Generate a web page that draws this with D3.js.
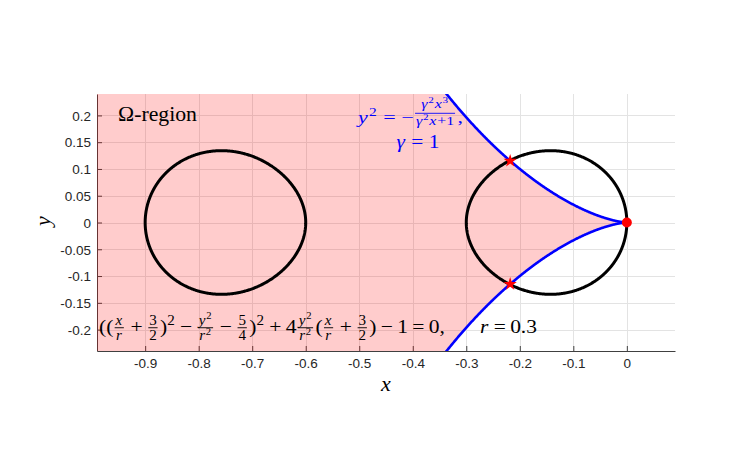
<!DOCTYPE html>
<html><head><meta charset="utf-8">
<script src="https://cdn.jsdelivr.net/npm/d3@7"></script>
<style>body{margin:0;background:#fff}text{white-space:pre}</style>
</head><body>
<svg id="c" width="746" height="469"></svg>
<script>
// ---- data ----
const xDomain = [-0.99, 0.09];
const yDomain = [-0.24, 0.24];
const xTicks = [-0.9, -0.8, -0.7, -0.6, -0.5, -0.4, -0.3, -0.2, -0.1, 0];
const yTicks = [-0.2, -0.15, -0.1, -0.05, 0, 0.05, 0.1, 0.15, 0.2];
const rParam = [0.3];        // r in the Cassini-oval equation
const gammaParam = [1];      // gamma in the cusp curve
const starPts = [[-0.218, 0.115], [-0.218, -0.115]];
const dotPts = [[0, 0]];

// ---- layout ----
const L = 97, T = 94, W = 578, H = 257;
const svg = d3.select('#c');
const x = d3.scaleLinear().domain(xDomain).range([L, L + W]);
const y = d3.scaleLinear().domain(yDomain).range([T + H, T]);
const SERIF = "'Liberation Serif','DejaVu Serif',serif";
const SANS = "'Liberation Sans',Arial,Helvetica,sans-serif";

svg.append('defs').append('clipPath').attr('id', 'clip')
  .append('rect').attr('x', L).attr('y', T).attr('width', W).attr('height', H);

// grid
const grid = svg.append('g');
grid.selectAll('.gx').data(xTicks).join('line')
  .attr('x1', d => Math.round(x(d)) + 0.5).attr('x2', d => Math.round(x(d)) + 0.5)
  .attr('y1', T).attr('y2', T + H).attr('stroke', '#e3e3e3').attr('stroke-width', 1);
grid.selectAll('.gy').data(yTicks).join('line')
  .attr('y1', d => Math.round(y(d)) + 0.5).attr('y2', d => Math.round(y(d)) + 0.5)
  .attr('x1', L).attr('x2', L + W).attr('stroke', '#e3e3e3').attr('stroke-width', 1);

// axes
const xAxis = d3.axisBottom(x).tickValues(xTicks).tickSizeInner(-5).tickSizeOuter(0)
  .tickFormat(d => String(+d.toFixed(2)));
const yAxis = d3.axisLeft(y).tickValues(yTicks).tickSizeInner(-5).tickSizeOuter(0)
  .tickFormat(d => String(+d.toFixed(2)));
const gx = svg.append('g').attr('transform', `translate(0,${T + H})`).call(xAxis);
const gy = svg.append('g').attr('transform', `translate(${L},0)`).call(yAxis);
[gx, gy].forEach(g => {
  g.select('.domain').attr('stroke', '#404040').attr('stroke-width', 1);
  g.selectAll('.tick line').attr('stroke', '#404040');
  g.selectAll('.tick text').attr('fill', '#262626').attr('font-size', 13.5).attr('font-family', SANS);
});
gx.selectAll('.tick text').attr('dy', null).attr('y', 17);
gy.selectAll('.tick text').attr('x', -6).attr('dy', '0.35em');

// ---- curves from the equations shown in the chart ----
const r = rParam[0], g2 = gammaParam[0] * gammaParam[0];
const cusp = xv => Math.sqrt(Math.max(0, -g2 * xv * xv * xv / (g2 * xv + 1)));
const xs = d3.range(0, 1201).map(i => xDomain[0] + (0 - xDomain[0]) * i / 1200);

// pink Omega region
const plot = svg.append('g').attr('clip-path', 'url(#clip)');
plot.append('path')
  .datum(xs)
  .attr('d', d3.area().x(d => x(d)).y0(d => y(-Math.min(cusp(d), 0.3))).y1(d => y(Math.min(cusp(d), 0.3))))
  .attr('fill', 'rgb(255,0,0)').attr('fill-opacity', 0.2);

// Cassini ovals: |w^2 - 5/4| = 1, w = x/r + 3/2 + i y/r
const th = d3.range(0, 721).map(i => 2 * Math.PI * i / 720);
function oval(sign) {
  return th.map(t => {
    const re = 1.25 + Math.cos(t), im = Math.sin(t);
    const m = Math.hypot(re, im);
    const a = Math.sqrt((m + re) / 2), b = Math.sign(im) * Math.sqrt((m - re) / 2);
    return [r * (sign * a - 1.5), r * sign * b];
  });
}
const line = d3.line().x(d => x(d[0])).y(d => y(d[1]));
[1, -1].forEach(s => plot.append('path').attr('d', line(oval(s)))
  .attr('fill', 'none').attr('stroke', '#000').attr('stroke-width', 3));

// cusp curve y^2 = -g^2 x^3/(g^2 x + 1)
const xb = xs.filter(d => cusp(d) < 0.3);
[1, -1].forEach(s => plot.append('path')
  .attr('d', line(xb.map(d => [d, s * cusp(d)])))
  .attr('fill', 'none').attr('stroke', '#0000ff').attr('stroke-width', 2.6));

// markers
svg.selectAll('.st').data(starPts).join('path')
  .attr('transform', d => `translate(${x(d[0])},${y(d[1])})`)
  .attr('d', d3.symbol().type(d3.symbolStar).size(55)).attr('fill', '#ff0000');
svg.selectAll('.dt').data(dotPts).join('circle')
  .attr('cx', d => x(d[0])).attr('cy', d => y(d[1])).attr('r', 5).attr('fill', '#ff0000');

// ---- math text renderer ----
function renderMath(g, items, x0, y0, size, color, supRaise) {
  let cx = x0;
  const sr = supRaise || 0.42;
  for (const it0 of items) {
    const it = typeof it0 === 'string' ? { t: it0 } : it0;
    if (it.t !== undefined) {
      const t = g.append('text').attr('x', cx).attr('y', y0).attr('font-size', size)
        .attr('font-family', SERIF).attr('fill', color)
        .attr('font-style', it.i ? 'italic' : 'normal').text(it.t);
      cx += t.node().getComputedTextLength() + (it.i ? 0.05 * size : 0);
    } else if (it.sup !== undefined) {
      const t = g.append('text').attr('x', cx).attr('y', y0 - sr * size).attr('font-size', size * 0.7)
        .attr('font-family', SERIF).attr('fill', color).text(it.sup);
      cx += t.node().getComputedTextLength() + 0.05 * size;
    } else if (it.f) {
      const fs = size * (it.fs || 0.7);
      const gn = g.append('g'), gd = g.append('g');
      const wn = renderMath(gn, it.f[0], 0, 0, fs, color);
      const wd = renderMath(gd, it.f[1], 0, 0, fs, color, 0.34);
      const w = Math.max(wn, wd) + 0.2 * size;
      const ax = y0 - 0.27 * size - (it.raise || 0) * size;
      gn.attr('transform', `translate(${cx + (w - wn) / 2},${ax - (it.ng || 0.15) * size})`);
      gd.attr('transform', `translate(${cx + (w - wd) / 2},${ax + (it.dg || 0.14) * size + fs * 0.68})`);
      g.append('line').attr('x1', cx + 0.06 * size).attr('x2', cx + w - 0.06 * size)
        .attr('y1', ax).attr('y2', ax).attr('stroke', color).attr('stroke-width', Math.max(0.7, size * 0.045));
      cx += w + 0.05 * size;
    } else if (it.sp !== undefined) {
      cx += it.sp * size;
    }
  }
  return cx - x0;
}
// horizontal fit only: keeps glyph height, stretches width to the reference span
function placeMath(items, left, baseline, size, color, targetW, anchor) {
  const g = svg.append('g');
  const inner = g.append('g');
  const w = renderMath(inner, items, 0, 0, size, color);
  const sx = targetW ? targetW / w : 1;
  const lx = anchor === 'middle' ? left - w * sx / 2 : left;
  g.attr('transform', `translate(${lx},${baseline}) scale(${sx},1)`);
  return g;
}
const I = t => ({ t, i: true });
const frac = (a, b, o) => Object.assign({ f: [a, b] }, o || {});
const xr = frac([I('x')], [I('r')]);
const th2 = frac(['3'], ['2']);
const y2r2 = frac([I('y'), { sup: '2' }], [I('r'), { sup: '2' }]);

// Omega-region label
placeMath(['Ω-region'], 118, 121, 20, '#000', 79);

// cusp equation label
placeMath([I('y'), { sup: '2' }, { sp: 0.25 }, '=', { sp: 0.25 }, '−',
  frac([I('γ'), { sup: '2' }, I('x'), { sup: '3' }], [I('γ'), { sup: '2' }, I('x'), '+1'],
    { raise: 0.3, fs: 0.72, ng: 0.3, dg: 0.17 }), ','],
  358, 123, 17, '#0000ff', 105);
placeMath([I('γ'), { sp: 0.25 }, '=', { sp: 0.25 }, '1'], 418, 148, 18, '#0000ff', 43, 'middle');

// oval equation label
const bin = s => [{ sp: 0.2 }, s, { sp: 0.2 }];
placeMath(['((', xr, ...bin('+'), th2, ')', { sup: '2' }, ...bin('−'), y2r2, ...bin('−'), frac(['5'], ['4']), ')', { sup: '2' },
  ...bin('+'), '4', y2r2, '(', xr, ...bin('+'), th2, ')', ...bin('−'), '1', ...bin('='), '0,'], 99, 333, 19.5, '#000', 346);
placeMath([I('r'), ...bin('='), '0.3'], 480, 333, 19.5, '#000', 57);

// axis labels
svg.append('text').attr('x', 386).attr('y', 391).attr('text-anchor', 'middle')
  .attr('font-family', SERIF).attr('font-style', 'italic').attr('font-size', 22).attr('fill', '#000').text('x');
svg.append('text').attr('transform', 'translate(50,221) rotate(-90)').attr('text-anchor', 'middle')
  .attr('font-family', SERIF).attr('font-style', 'italic').attr('font-size', 22).attr('fill', '#000').text('y');
</script>
</body></html>
